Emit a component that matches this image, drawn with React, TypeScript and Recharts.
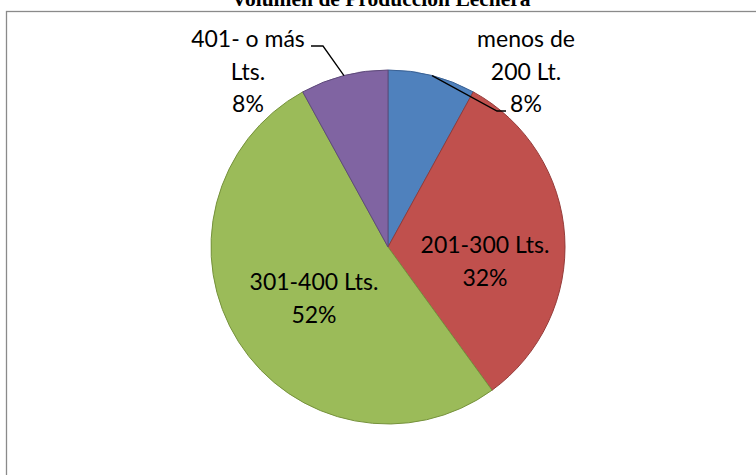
import { PieChart, Pie, Cell } from "recharts";

// production volume shares (percent of farms)
const categories = ["menos de 200 Lt.", "201-300 Lts.", "301-400 Lts.", "401- o más Lts."];
const labelLines = [["menos de", "200 Lt."], ["201-300 Lts."], ["301-400 Lts."], ["401- o más", "Lts."]];
const shares = [8, 32, 52, 8];

const fills = ["#4F81BD", "#C0504D", "#9BBB59", "#8064A2"];
const strokes = ["#3A6194", "#953B39", "#76923C", "#5E4A7A"];

// label block placement relative to pie centre (first baseline), plus leader elbows for outside labels
const labelPlacement = [
  { dx: 138, dy: -200, elbow: [109, -136], end: 118 },
  { dx: 97, dy: 6 },
  { dx: -74, dy: 43 },
  { dx: -140, dy: -200, elbow: [-65, -201], end: -77 },
];

const data = categories.map((name, i) => ({ name, value: shares[i] }));

const RAD = Math.PI / 180;
const LINE_H = 32.5;
const FONT = "Lato, 'Noto Sans', sans-serif";

const renderLabel = (props: any) => {
  const { cx, cy, midAngle, outerRadius, percent, index } = props;
  const place = labelPlacement[index];
  const lines = [...labelLines[index], `${Math.round(percent * 100)}%`];
  const x = cx + place.dx;
  const y0 = cy + place.dy;
  let leader = null;
  if (place.elbow) {
    const sx = cx + outerRadius * Math.cos(-midAngle * RAD);
    const sy = cy + outerRadius * Math.sin(-midAngle * RAD);
    const ex = cx + place.elbow[0];
    const ey = cy + place.elbow[1];
    leader = (
      <polyline
        points={`${sx},${sy} ${ex},${ey} ${cx + place.end},${ey}`}
        fill="none"
        stroke="#000"
        strokeWidth={1.3}
      />
    );
  }
  return (
    <g key={`label-${index}`}>
      {leader}
      <text x={x} y={y0} textAnchor="middle" fill="#000" fontFamily={FONT} fontSize={23}>
        {lines.map((l, i) => (
          <tspan key={i} x={x} y={y0 + i * LINE_H}>
            {l}
          </tspan>
        ))}
      </text>
    </g>
  );
};

export default function App() {
  return (
    <div style={{ position: "absolute", left: 0, top: 0, width: 756, height: 475, background: "#fff" }}>
      <svg width={756} height={475} style={{ position: "absolute", left: 0, top: 0 }}>
        <rect x={6.5} y={11.5} width={800} height={500} fill="#fff" stroke="#8a8a8a" strokeWidth={1.3} />
        <text
          x={381}
          y={6}
          textAnchor="middle"
          fontFamily="'Liberation Serif', 'Times New Roman', serif"
          fontWeight="bold"
          fontSize={21.5}
          fill="#000"
        >
          Volumen de Producción Lechera
        </text>
      </svg>
      <div style={{ position: "absolute", left: 0, top: 0 }}>
        <PieChart width={756} height={475} margin={{ top: 0, right: 0, bottom: 0, left: 0 }}>
          <Pie
            data={data}
            dataKey="value"
            nameKey="name"
            cx={388}
            cy={247}
            outerRadius={177}
            startAngle={90}
            endAngle={-270}
            label={renderLabel}
            labelLine={false}
            isAnimationActive={false}
          >
            {data.map((d, i) => (
              <Cell key={d.name} fill={fills[i]} stroke={strokes[i]} strokeWidth={1} />
            ))}
          </Pie>
        </PieChart>
      </div>
    </div>
  );
}
